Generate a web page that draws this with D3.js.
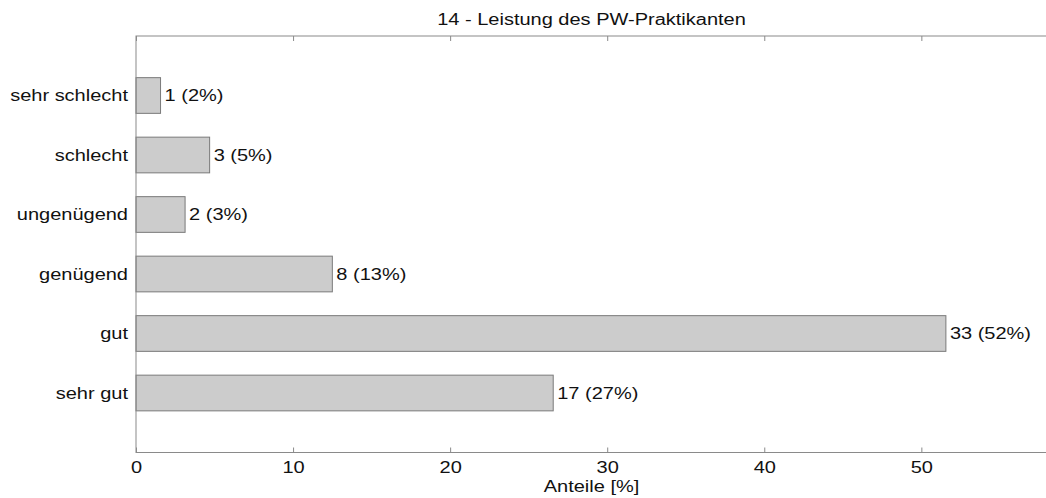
<!DOCTYPE html>
<meta charset="utf-8">
<style>
body { margin: 0; background: #fff; }
text { font-family: "Liberation Sans", Arial, sans-serif; fill: #111; font-size: 16px; }
.axis path, .axis line { stroke: #8a8a8a; }
</style>
<svg width="1046" height="498"></svg>
<script src="https://d3js.org/d3.v7.min.js"></script>
<script>

var categories = ["sehr gut", "gut", "genügend", "ungenügend", "schlecht", "sehr schlecht"];
var counts = [17, 33, 8, 2, 3, 1];
var xTicks = [0, 10, 20, 30, 40, 50];

var total = d3.sum(counts);
var data = categories.map(function(c, i) {
  return { name: c, n: counts[i], pos: i + 1, pct: counts[i] / total * 100 };
});

// note: "top" is reserved on window, so use plotTop etc.
var svg = d3.select("svg"),
    plotLeft = 136, plotRight = 1047, plotTop = 36, plotBottom = 452.5,
    sx = 1.25; // the reference text is stretched sideways

function place(px, py) {
  return "translate(" + px + "," + py + ") scale(" + sx + ",1)";
}

var x = d3.scaleLinear().domain([0, 58]).range([plotLeft, plotRight]);
var y = d3.scaleLinear().domain([0, 7]).range([plotBottom, plotTop]);
var bw = (y(0) - y(0.6));

// bars
svg.selectAll("rect.bar")
  .data(data)
  .enter().append("rect")
    .attr("class", "bar")
    .attr("x", x(0))
    .attr("y", function(d) { return y(d.pos) - bw / 2; })
    .attr("width", function(d) { return x(d.pct) - x(0); })
    .attr("height", bw)
    .attr("fill", "#cccccc")
    .attr("stroke", "#7a7a7a")
    .attr("stroke-width", 1);

// value labels
svg.selectAll("text.val")
  .data(data)
  .enter().append("text")
    .attr("class", "val")
    .attr("transform", function(d) { return place(x(d.pct) + 4, y(d.pos)); })
    .attr("dy", "0.35em")
    .text(function(d) { return d.n + " (" + Math.round(d.pct) + "%)"; });

// box
svg.append("rect")
  .attr("x", plotLeft).attr("y", plotTop)
  .attr("width", plotRight - plotLeft).attr("height", plotBottom - plotTop)
  .attr("fill", "none").attr("stroke", "#8a8a8a");

// bottom axis
var xb = svg.append("g").attr("class", "axis")
  .attr("transform", "translate(0," + plotBottom + ")")
  .call(d3.axisBottom(x).tickValues(xTicks).tickSizeInner(-5).tickSizeOuter(0).tickPadding(9));
xb.select(".domain").remove();
xb.selectAll("text")
  .attr("fill", "#111")
  .attr("font-size", null).attr("font-family", null)
  .attr("transform", "scale(" + sx + ",1)");
xb.attr("font-size", null).attr("font-family", null);

// top ticks
var xt = svg.append("g").attr("class", "axis")
  .attr("transform", "translate(0," + plotTop + ")")
  .call(d3.axisTop(x).tickValues(xTicks).tickSizeInner(-5).tickSizeOuter(0).tickFormat(""));
xt.select(".domain").remove();

// y labels
svg.selectAll("text.cat")
  .data(data)
  .enter().append("text")
    .attr("class", "cat")
    .attr("transform", function(d) { return place(plotLeft - 8, y(d.pos)); })
    .attr("dy", "0.35em")
    .attr("text-anchor", "end")
    .text(function(d) { return d.name; });

// title
svg.append("text")
  .attr("transform", place((plotLeft + plotRight) / 2, 25))
  .attr("text-anchor", "middle")
  .text("14 - Leistung des PW-Praktikanten");

// x label
svg.append("text")
  .attr("transform", place((plotLeft + plotRight) / 2, 492))
  .attr("text-anchor", "middle")
  .text("Anteile [%]");

</script>
